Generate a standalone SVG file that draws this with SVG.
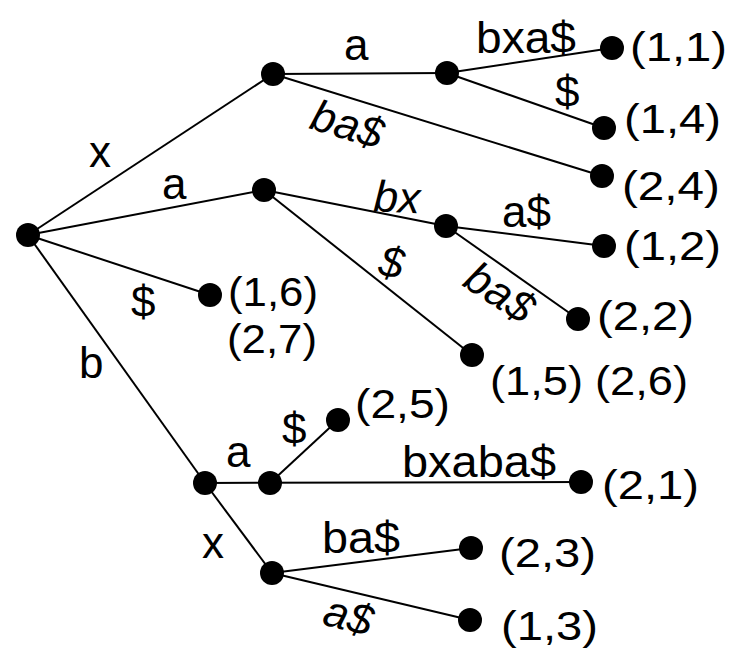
<svg xmlns="http://www.w3.org/2000/svg" width="729" height="654" viewBox="0 0 729 654">
<style>
.e{stroke:#000;stroke-width:2;fill:none}
.n{fill:#000}
.t{font-family:"Liberation Sans",Arial,sans-serif;font-size:44px;fill:#000}
.l{font-family:"Liberation Sans",Arial,sans-serif;font-size:41px;fill:#000}
.i{font-style:italic}
</style>
<rect width="729" height="654" fill="#fff"/>
<g id="edges">
<line class="e" x1="28" y1="235" x2="273" y2="74"/>
<line class="e" x1="28" y1="235" x2="264" y2="190"/>
<line class="e" x1="28" y1="235" x2="210" y2="295"/>
<line class="e" x1="28" y1="235" x2="205" y2="483"/>
<line class="e" x1="273" y1="74" x2="447" y2="73"/>
<line class="e" x1="273" y1="74" x2="602" y2="176"/>
<line class="e" x1="447" y1="73" x2="612" y2="48"/>
<line class="e" x1="447" y1="73" x2="604" y2="128"/>
<line class="e" x1="264" y1="190" x2="446" y2="226"/>
<line class="e" x1="264" y1="190" x2="472" y2="355"/>
<line class="e" x1="446" y1="226" x2="604" y2="246"/>
<line class="e" x1="446" y1="226" x2="578" y2="319"/>
<line class="e" x1="205" y1="483" x2="581" y2="482"/>
<line class="e" x1="270" y1="483" x2="338" y2="420"/>
<line class="e" x1="205" y1="483" x2="272" y2="573"/>
<line class="e" x1="272" y1="573" x2="471" y2="548"/>
<line class="e" x1="272" y1="573" x2="470" y2="620"/>
</g>
<g id="root"><circle class="n" cx="28" cy="235" r="12"/></g>
<g id="nx"><circle class="n" cx="273" cy="74" r="12"/></g>
<g id="na"><circle class="n" cx="264" cy="190" r="12"/></g>
<g id="nxa"><circle class="n" cx="447" cy="73" r="12"/></g>
<g id="nabx"><circle class="n" cx="446" cy="226" r="12"/></g>
<g id="nb"><circle class="n" cx="205" cy="483" r="12"/></g>
<g id="nba"><circle class="n" cx="270" cy="483" r="12"/></g>
<g id="nbx"><circle class="n" cx="272" cy="573" r="12"/></g>
<g id="leaf11"><circle class="n" cx="612" cy="48" r="12"/><text class="l" x="630" y="61" textLength="97" lengthAdjust="spacingAndGlyphs">(1,1)</text></g>
<g id="leaf14"><circle class="n" cx="604" cy="128" r="12"/><text class="l" x="624" y="133" textLength="97" lengthAdjust="spacingAndGlyphs">(1,4)</text></g>
<g id="leaf24"><circle class="n" cx="602" cy="176" r="12"/><text class="l" x="622" y="200" textLength="98" lengthAdjust="spacingAndGlyphs">(2,4)</text></g>
<g id="leaf12"><circle class="n" cx="604" cy="246" r="12"/><text class="l" x="624" y="260" textLength="97" lengthAdjust="spacingAndGlyphs">(1,2)</text></g>
<g id="leaf22"><circle class="n" cx="578" cy="319" r="12"/><text class="l" x="597" y="330" textLength="97" lengthAdjust="spacingAndGlyphs">(2,2)</text></g>
<g id="leaf16"><circle class="n" cx="210" cy="295" r="12"/><text class="l" x="228" y="306" textLength="90" lengthAdjust="spacingAndGlyphs">(1,6)</text><text class="l" x="227" y="353" textLength="90" lengthAdjust="spacingAndGlyphs">(2,7)</text></g>
<g id="leaf15"><circle class="n" cx="472" cy="355" r="12"/><text class="l" x="490" y="395" textLength="93" lengthAdjust="spacingAndGlyphs">(1,5)</text><text class="l" x="595" y="395" textLength="93" lengthAdjust="spacingAndGlyphs">(2,6)</text></g>
<g id="leaf25"><circle class="n" cx="338" cy="420" r="12"/><text class="l" x="355" y="418" textLength="95" lengthAdjust="spacingAndGlyphs">(2,5)</text></g>
<g id="leaf21"><circle class="n" cx="581" cy="482" r="12"/><text class="l" x="602" y="499" textLength="97" lengthAdjust="spacingAndGlyphs">(2,1)</text></g>
<g id="leaf23"><circle class="n" cx="471" cy="548" r="12"/><text class="l" x="499" y="567" textLength="97" lengthAdjust="spacingAndGlyphs">(2,3)</text></g>
<g id="leaf13"><circle class="n" cx="470" cy="620" r="12"/><text class="l" x="501" y="640" textLength="97" lengthAdjust="spacingAndGlyphs">(1,3)</text></g>
<g id="labels">
<text class="t" x="89" y="167">x</text>
<text class="t" x="162" y="199">a</text>
<text class="t" x="131" y="317">$</text>
<text class="t" x="79" y="378">b</text>
<text class="t" x="344" y="60">a</text>
<text class="t" x="476" y="53" textLength="100" lengthAdjust="spacingAndGlyphs">bxa$</text>
<text class="t" x="555" y="107">$</text>
<text class="t i" transform="translate(308,128) rotate(17)">ba$</text>
<text class="t i" transform="translate(373,211) rotate(3)">bx</text>
<text class="t" x="502" y="227">a$</text>
<text class="t i" transform="translate(377,275) rotate(10)">$</text>
<text class="t i" transform="translate(461,285) rotate(33)">ba$</text>
<text class="t" x="282" y="444">$</text>
<text class="t" x="226" y="467">a</text>
<text class="t" x="402" y="477" textLength="154" lengthAdjust="spacingAndGlyphs">bxaba$</text>
<text class="t" x="202" y="558">x</text>
<text class="t" x="322" y="553" textLength="78" lengthAdjust="spacingAndGlyphs">ba$</text>
<text class="t i" transform="translate(321,624) rotate(15)">a$</text>
</g>
</svg>
